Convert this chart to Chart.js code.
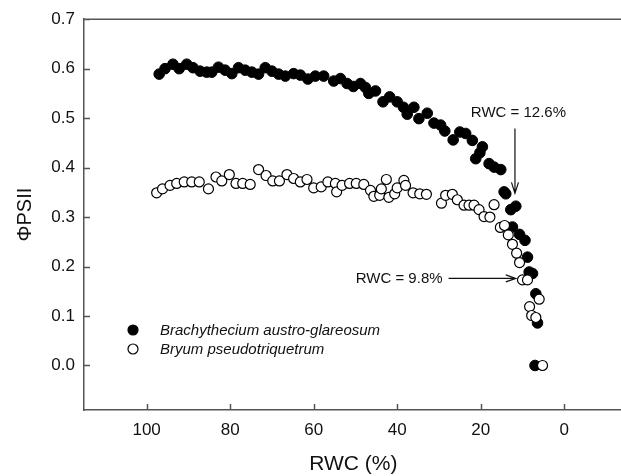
<!DOCTYPE html>
<html><head><meta charset="utf-8">
<script src="https://cdn.jsdelivr.net/npm/chart.js@4.4.0/dist/chart.umd.min.js"></script>
<style>html,body{margin:0;padding:0;background:#fff;overflow:hidden}#wrap{width:621px;height:476px;position:relative;overflow:hidden}canvas{display:block}</style>
</head><body><div id="wrap"><canvas id="c" width="629" height="476"></canvas></div>
<script>
// ---- data ----
const seriesNames = ['Brachythecium austro-glareosum', 'Bryum pseudotriquetrum'];
const brachyRWC = [97.0,95.6,93.7,92.2,90.4,88.9,87.2,85.6,84.4,82.8,81.2,79.6,78.0,76.4,74.8,73.2,71.6,70.0,68.4,66.8,64.8,63.2,61.4,59.6,57.6,55.2,53.6,52.0,50.5,48.8,47.6,46.8,45.2,43.4,41.8,40.0,38.5,37.6,36.0,34.8,32.8,31.2,29.6,28.6,26.6,25.0,23.6,22.0,21.2,20.2,19.6,18.0,16.8,15.2,14.4,14.0,12.8,11.6,12.4,10.7,9.4,8.8,8.4,7.6,6.8,6.4,7.0];
const brachyPSII = [0.589,0.600,0.609,0.600,0.609,0.602,0.595,0.593,0.593,0.603,0.597,0.590,0.602,0.597,0.593,0.589,0.602,0.595,0.589,0.585,0.590,0.587,0.579,0.585,0.585,0.575,0.580,0.570,0.564,0.570,0.562,0.550,0.555,0.533,0.543,0.533,0.522,0.508,0.522,0.499,0.510,0.490,0.486,0.474,0.456,0.472,0.469,0.455,0.418,0.430,0.442,0.408,0.401,0.396,0.351,0.347,0.315,0.322,0.280,0.265,0.253,0.219,0.189,0.186,0.145,0.086,0.0];
const bryumRWC = [97.6,96.2,94.4,92.8,91.0,89.2,87.4,85.2,83.4,82.0,80.2,78.6,77.0,75.2,73.2,71.4,69.8,68.2,66.4,64.8,63.2,61.6,60.0,58.2,56.6,54.8,54.5,53.2,51.4,49.8,48.0,46.4,45.6,44.2,43.8,42.6,42.0,40.6,40.0,38.4,38.0,36.2,34.6,33.0,29.4,28.4,26.8,25.6,24.0,22.8,21.6,20.4,19.2,17.8,16.8,15.3,14.3,13.4,12.4,11.4,10.7,10.0,8.8,8.3,7.8,6.8,6.0,5.2];
const bryumPSII = [0.349,0.357,0.364,0.368,0.371,0.371,0.371,0.357,0.381,0.373,0.386,0.368,0.368,0.366,0.396,0.384,0.373,0.373,0.386,0.378,0.371,0.376,0.359,0.361,0.371,0.368,0.351,0.364,0.368,0.368,0.366,0.354,0.342,0.344,0.357,0.376,0.340,0.347,0.359,0.374,0.364,0.349,0.347,0.346,0.328,0.344,0.346,0.335,0.324,0.324,0.324,0.315,0.301,0.300,0.325,0.279,0.283,0.264,0.245,0.227,0.208,0.173,0.173,0.119,0.101,0.097,0.134,0.0];
const xTickValues = [100, 80, 60, 40, 20, 0];
const yTickValues = [0.0, 0.1, 0.2, 0.3, 0.4, 0.5, 0.6, 0.7];
const notes = [
  {text: 'RWC = 12.6%', x: 11.8, yFrom: 0.479, yTo: 0.348, dir: 'down'},
  {text: 'RWC = 9.8%', xFrom: 27.7, xTo: 11.6, y: 0.176, dir: 'right'}
];

const FONT = '"Liberation Sans", Arial, Helvetica, sans-serif';
const AXIS = '#555';
const TXT = '#111';

function arrowHead(ctx, x1, y1, x2, y2, len, hw) {
  const a = Math.atan2(y2 - y1, x2 - x1);
  const bx = x2 - len * Math.cos(a), by = y2 - len * Math.sin(a);
  const nx = -Math.sin(a) * hw, ny = Math.cos(a) * hw;
  ctx.beginPath();
  ctx.moveTo(x1, y1); ctx.lineTo(x2, y2);
  ctx.moveTo(bx + nx, by + ny); ctx.lineTo(x2, y2); ctx.lineTo(bx - nx, by - ny);
  ctx.stroke();
}

const framePlugin = {
  id: 'frame',
  afterDatasetsDraw(chart) {
    const {ctx, chartArea: a, scales: {x, y}} = chart;
    ctx.save();
    ctx.strokeStyle = AXIS; ctx.lineWidth = 1.5;
    ctx.beginPath();
    ctx.moveTo(a.left, a.top); ctx.lineTo(a.right, a.top);
    x.ticks.forEach(t => { const px = Math.round(x.getPixelForValue(t.value)) + 0.5; ctx.moveTo(px, a.bottom); ctx.lineTo(px, a.bottom - 6); });
    y.ticks.forEach(t => { const py = Math.round(y.getPixelForValue(t.value)) + 0.5; ctx.moveTo(a.left, py); ctx.lineTo(a.left + 6, py); });
    ctx.stroke();

    // legend
    const lx = 133, ly = [330, 349];
    chart.data.datasets.forEach((ds, i) => {
      ctx.beginPath();
      ctx.arc(lx, ly[i], 5, 0, Math.PI * 2);
      ctx.fillStyle = ds.backgroundColor; ctx.fill();
      ctx.lineWidth = 1.2; ctx.strokeStyle = '#000'; ctx.stroke();
      ctx.fillStyle = TXT; ctx.font = 'italic 15px ' + FONT;
      ctx.textAlign = 'left'; ctx.textBaseline = 'middle';
      ctx.fillText(ds.label, 160, ly[i] + 1);
    });

    // annotations
    ctx.strokeStyle = '#111'; ctx.lineWidth = 1.2; ctx.fillStyle = TXT;
    ctx.font = '15px ' + FONT;
    notes.forEach(n => {
      if (n.dir === 'down') {
        const px = x.getPixelForValue(n.x), p1 = y.getPixelForValue(n.yFrom), p2 = y.getPixelForValue(n.yTo);
        arrowHead(ctx, px, p1, px, p2, 11, 3.5);
        ctx.textAlign = 'center'; ctx.textBaseline = 'middle';
        ctx.fillText(n.text, px + 3.5, p1 - 16);
      } else {
        const p1 = x.getPixelForValue(n.xFrom), p2 = x.getPixelForValue(n.xTo), py = y.getPixelForValue(n.y);
        arrowHead(ctx, p1, py, p2, py, 10, 3.5);
        ctx.textAlign = 'right'; ctx.textBaseline = 'middle';
        ctx.fillText(n.text, p1 - 6, py);
      }
    });
    ctx.restore();
  }
};

const toPts = (xs, ys) => xs.map((v, i) => ({x: v, y: ys[i]}));

new Chart(document.getElementById('c'), {
  type: 'scatter',
  data: {
    datasets: [
      {label: seriesNames[0], data: toPts(brachyRWC, brachyPSII), backgroundColor: '#000', borderColor: '#000', borderWidth: 1, pointRadius: 5.3, order: 2},
      {label: seriesNames[1], data: toPts(bryumRWC, bryumPSII), backgroundColor: '#fff', borderColor: '#000', borderWidth: 1.2, pointRadius: 5, order: 1}
    ]
  },
  options: {
    responsive: false, animation: false, devicePixelRatio: 1,
    layout: {padding: {left: 11, top: 19, right: 0, bottom: 0}},
    plugins: {legend: {display: false}, tooltip: {enabled: false}},
    scales: {
      x: {
        type: 'linear', reverse: true, min: -14, max: 115,
        afterBuildTicks: s => { s.ticks = xTickValues.map(v => ({value: v})); },
        afterFit: s => { s.height = 66; },
        grid: {display: false, drawTicks: false},
        border: {display: true, color: AXIS, width: 1.5},
        ticks: {font: {family: FONT, size: 17}, color: TXT, padding: 10, maxRotation: 0, autoSkip: false, callback: v => String(v)},
        title: {display: true, text: 'RWC (%)', font: {family: FONT, size: 21}, color: TXT, padding: {top: 4, bottom: -1}}
      },
      y: {
        type: 'linear', min: -0.09, max: 0.7,
        afterBuildTicks: s => { s.ticks = yTickValues.map(v => ({value: v})); },
        afterFit: s => { s.width = 73; },
        grid: {display: false, drawTicks: false},
        border: {display: true, color: AXIS, width: 1.5},
        ticks: {font: {family: FONT, size: 17}, color: TXT, padding: 9, autoSkip: false, callback: v => v.toFixed(1)},
        title: {display: true, text: 'ΦPSII', font: {family: FONT, size: 20}, color: TXT, padding: {top: 2, bottom: 4}}
      }
    }
  },
  plugins: [framePlugin]
});
</script></body></html>
